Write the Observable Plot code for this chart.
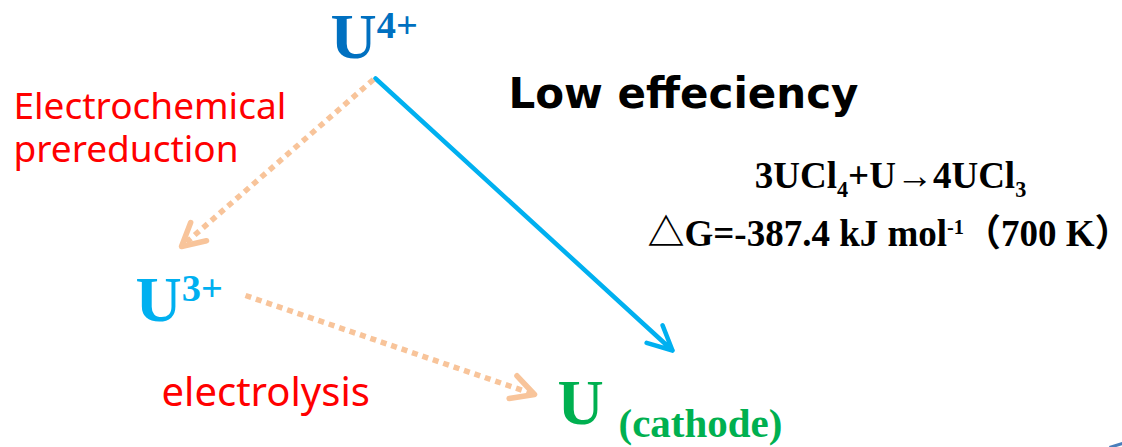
<!DOCTYPE html>
<html><head><meta charset="utf-8">
<script src="https://cdn.jsdelivr.net/npm/d3@7"></script>
<script src="https://cdn.jsdelivr.net/npm/@observablehq/plot@0.6"></script>
<style>
body{margin:0;background:#fff;}
#chart{width:1122px;height:447px;overflow:hidden;}
</style>
</head><body><div id="chart"></div>
<script>
// ---- diagram data ----
const labelText = ["U^{4+}", "U^{3+}", "U", "(cathode)", "Electrochemical\nprereduction", "electrolysis", "Low effeciency", "3UCl_{4}+U→4UCl_{3}", "△G=-387.4 kJ mol^{-1}（700 K）"];
const labelX = [330, 135, 557, 618, 13, 161, 683, 890, 889];
const labelY = [57, 320, 423, 436, 161, 405, 107, 187, 245];

const arrowName = ["U4+ → U (direct)", "U4+ → U3+ (prereduction)", "U3+ → U (electrolysis)"];
const arrowX1 = [375, 373, 245];
const arrowY1 = [78, 79, 295];
const arrowX2 = [672, 181, 534];
const arrowY2 = [350, 246, 394];

const decorX1 = [1109];
const decorY1 = [447];
const decorX2 = [1122];
const decorY2 = [443];

// ---- marks ----
const serif = "'Liberation Serif', 'Times New Roman', 'Noto Sans CJK SC', serif";
const sans = "'Noto Sans', 'Open Sans', sans-serif";
const txt = (i, opts) => Plot.text([i], {
  x: d => labelX[d], y: d => labelY[d], text: d => labelText[d],
  textAnchor: "start", lineAnchor: "bottom", ...opts
});
const arr = (idx, opts) => Plot.arrow(idx, {
  x1: d => arrowX1[d], y1: d => arrowY1[d], x2: d => arrowX2[d], y2: d => arrowY2[d], ...opts
});

const svg = Plot.plot({
  width: 1122, height: 447, margin: 0,
  x: {domain: [0, 1122], range: [0, 1122], axis: null},
  y: {domain: [0, 447], range: [0, 447], axis: null},
  style: {background: "#fff", overflow: "hidden"},
  marks: [
    arr([0], {stroke: "#00B0F0", strokeWidth: 4.5, headLength: 9, headAngle: 52}),
    arr([1, 2], {stroke: "#F8C49A", strokeWidth: 5.5, headLength: 7, headAngle: 56, strokeDasharray: "6,5", strokeLinecap: "butt"}),
    Plot.link(decorX1.map((_, i) => i), {x1: d => decorX1[d], y1: d => decorY1[d], x2: d => decorX2[d], y2: d => decorY2[d], stroke: "#4A7EBB", strokeWidth: 3}),
    txt(0, {fill: "#0070C0", fontFamily: serif, fontWeight: "bold", fontSize: 64}),
    txt(1, {fill: "#00B0F0", fontFamily: serif, fontWeight: "bold", fontSize: 64}),
    txt(2, {fill: "#00B050", fontFamily: serif, fontWeight: "bold", fontSize: 64}),
    txt(3, {fill: "#00B050", fontFamily: serif, fontWeight: "bold", fontSize: 41}),
    txt(4, {fill: "#FF0000", fontFamily: sans, fontSize: 37, lineHeight: 1.15}),
    txt(5, {fill: "#FF0000", fontFamily: sans, fontSize: 40}),
    txt(6, {fill: "#000", fontFamily: "'DejaVu Sans', sans-serif", fontWeight: "bold", fontSize: 42, textAnchor: "middle"}),
    txt(7, {fill: "#000", fontFamily: serif, fontWeight: "bold", fontSize: 37, textAnchor: "middle"}),
    txt(8, {fill: "#000", fontFamily: serif, fontWeight: "bold", fontSize: 37, textAnchor: "middle"})
  ]
});
document.getElementById("chart").appendChild(svg);

// rich text: ^{..} superscript, _{..} subscript
svg.querySelectorAll("text").forEach(t => {
  const s = t.textContent;
  if (!/[\^_]\{/.test(s)) return;
  const fs = parseFloat(getComputedStyle(t).fontSize);
  const supScale = fs >= 50 ? 0.6 : 0.55;
  const parts = [];
  const re = /([\^_])\{([^}]*)\}/g; let last = 0, m;
  while ((m = re.exec(s))) {
    if (m.index > last) parts.push({t: s.slice(last, m.index), k: ""});
    parts.push({t: m[2], k: m[1]});
    last = re.lastIndex;
  }
  if (last < s.length) parts.push({t: s.slice(last), k: ""});
  t.textContent = "";
  let cur = 0;
  for (const p of parts) {
    const ts = document.createElementNS("http://www.w3.org/2000/svg", "tspan");
    const target = p.k === "^" ? -0.3 * fs : p.k === "_" ? 0.26 * fs : 0;
    const dy = target - cur; cur = target;
    if (dy) ts.setAttribute("dy", dy);
    if (p.k) ts.setAttribute("font-size", (p.k === "^" ? supScale : 0.6) * fs);
    ts.textContent = p.t;
    t.appendChild(ts);
  }
});

// dotted shafts keep solid arrowheads
svg.querySelectorAll('g[aria-label="arrow"][stroke-dasharray] path').forEach(p => {
  const d = p.getAttribute("d");
  const k = d.indexOf("M", 1);
  if (k < 0) return;
  p.setAttribute("d", d.slice(0, k));
  p.setAttribute("stroke-linecap", "butt");
  const head = p.cloneNode();
  head.setAttribute("d", d.slice(k));
  head.setAttribute("stroke-dasharray", "none");
  head.setAttribute("stroke-linecap", "round");
  head.setAttribute("stroke-linejoin", "round");
  p.parentNode.appendChild(head);
});
</script>
</body></html>
